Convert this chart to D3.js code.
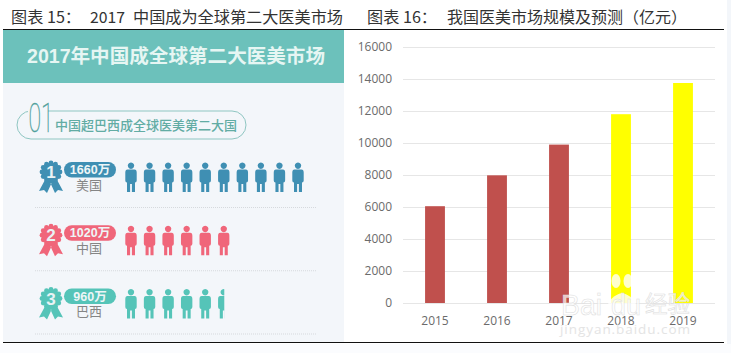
<!DOCTYPE html>
<html><head><meta charset="utf-8">
<script src="https://cdn.jsdelivr.net/npm/d3@7"></script>
<style>
html,body{margin:0;padding:0;background:#fff;overflow:hidden}
text{font-family:"Noto Sans CJK SC","Noto Sans",sans-serif}
</style></head><body>
<svg id="c" width="731" height="353"></svg>
<script>
const years=["2015","2016","2017","2018","2019"];
const marketValues=[6050,7980,9900,11800,13750];
const barColors=["#c0504d","#c0504d","#c0504d","#ffff00","#ffff00"];
const yTicks=[0,2000,4000,6000,8000,10000,12000,14000,16000];
const countries=["美国","中国","巴西"];
const patientLabels=["1660万","1020万","960万"];
const peopleCounts=[10,6,5.5];
const rowColors=["#3f8fb3","#f0667a","#55c4b8"];
const ranks=["1","2","3"];

const svg=d3.select("#c");
svg.append("rect").attr("width",731).attr("height",353).attr("fill","#fff");
svg.append("rect").attr("x",727).attr("width",4).attr("height",353).attr("fill","#f3f6fa");
svg.append("rect").attr("x",0).attr("y",344).attr("width",731).attr("height",9).attr("fill","#fbfcfe");

/* ---------- left infographic ---------- */
svg.append("rect").attr("x",3).attr("y",30).attr("width",341).attr("height",312).attr("fill","#f3f6fa");
svg.append("rect").attr("x",3).attr("y",30).attr("width",341).attr("height",53).attr("fill","#6cc1bb");
svg.append("text").attr("x",176).attr("y",63).attr("text-anchor","middle")
  .attr("font-size",19.5).attr("font-weight",700).attr("fill","#e6f6f3")
  .attr("textLength",298).attr("lengthAdjust","spacingAndGlyphs")
  .style("font-family","'Liberation Sans','Noto Sans CJK SC'").text("2017年中国成全球第二大医美市场");

svg.append("rect").attr("x",17).attr("y",111).attr("width",229).attr("height",28).attr("rx",14)
  .attr("fill","none").attr("stroke","#8fc6c2").attr("stroke-width",1);
svg.append("rect").attr("x",28).attr("y",100).attr("width",20).attr("height",37).attr("fill","#f3f6fa");
svg.append("text").attr("transform","translate(28.5,132) scale(.72,1.27)").attr("font-size",32)
  .attr("font-weight",100).attr("fill","#4f9f9b").attr("stroke","#4f9f9b").attr("stroke-width",.35)
  .style("font-family","'Roboto'").text("01");
svg.append("text").attr("x",55).attr("y",130).attr("font-size",13).attr("font-weight",500)
  .attr("fill","#62aca4").text("中国超巴西成全球医美第二大国");

const rowY=d3.scalePoint().domain(countries).range([177,303.5]);
const personX=d3.scaleLinear().domain([0,9]).range([131,298]);
const defs=svg.append("defs");

const person="M0,-14.5a3.2,3.2 0 1,1 -0.01,0Z M-3.5,-7.5 H3.5 Q5.7,-7.5 5.7,-4.5 V3.5 Q5.7,5.5 4,5.5 V15 H0.9 V7 H-0.9 V15 H-4 V5.5 Q-5.7,5.5 -5.7,3.5 V-4.5 Q-5.7,-7.5 -3.5,-7.5Z";

countries.forEach((name,i)=>{
  const cy=rowY(name), col=rowColors[i];
  const g=svg.append("g").attr("transform",`translate(0,${cy})`);
  // rosette
  const rg=g.append("g").attr("transform","translate(51,-5)");
  rg.append("path").attr("d","M-5,6 L-12,19 L-7,18 L-4,21 L2,8Z M5,6 L12,19 L7,18 L4,21 L-2,8Z").attr("fill",col);
  d3.range(12).forEach(k=>{
    const a=k/12*2*Math.PI;
    rg.append("circle").attr("cx",9*Math.cos(a)).attr("cy",9*Math.sin(a)).attr("r",2.4).attr("fill",col);
  });
  rg.append("circle").attr("r",9.5).attr("fill",col);
  rg.append("text").attr("text-anchor","middle").attr("y",6).attr("font-size",17).attr("font-weight",700)
    .attr("fill","#e9f3f5").style("font-family","'Liberation Sans'").text(ranks[i]);
  // pill
  g.append("rect").attr("x",64).attr("y",-15).attr("width",52).attr("height",15.5).attr("rx",7.7).attr("fill",col);
  g.append("text").attr("x",90).attr("y",-2.8).attr("text-anchor","middle").attr("font-size",12.5).attr("font-weight",700)
    .attr("fill","#eef6f7").style("font-family","'Liberation Sans','Noto Sans CJK SC'").text(patientLabels[i]);
  g.append("text").attr("x",89).attr("y",12.5).attr("text-anchor","middle").attr("font-size",13)
    .attr("fill","#858585").text(name);
  // people
  const n=peopleCounts[i], full=Math.ceil(n);
  const clipId="clip"+i;
  const lastFrac=n-Math.floor(n);
  defs.append("clipPath").attr("id",clipId).append("rect")
    .attr("x",0).attr("y",-40).attr("height",80)
    .attr("width",personX(full-1)+(lastFrac?0.5:6));
  g.append("g").attr("clip-path",`url(#${clipId})`).selectAll("path").data(d3.range(full)).join("path")
    .attr("d",person).attr("fill",col).attr("transform",d=>`translate(${personX(d)},0)`);
  // divider
  g.append("line").attr("x1",35).attr("x2",316).attr("y1",30.5).attr("y2",30.5)
    .attr("stroke","#d6d9dd").attr("stroke-width",1).attr("stroke-dasharray","1 1");
});

/* ---------- right bar chart ---------- */
const x=d3.scaleBand().domain(years).range([404,714]).paddingInner(.68).paddingOuter(.34);
const y=d3.scaleLinear().domain([0,16000]).range([303,47]);
svg.append("g").selectAll("line").data(yTicks).join("line")
  .attr("x1",403).attr("x2",715).attr("y1",d=>y(d)+.5).attr("y2",d=>y(d)+.5)
  .attr("stroke","#e6e6e6").attr("stroke-width",1);
svg.append("g").selectAll("rect").data(years).join("rect")
  .attr("x",d=>x(d)).attr("width",x.bandwidth())
  .attr("y",(d,i)=>y(marketValues[i])).attr("height",(d,i)=>y(0)-y(marketValues[i]))
  .attr("fill",(d,i)=>barColors[i]);
const yAxis=d3.axisLeft(y).tickValues(yTicks).tickSize(0).tickPadding(0).tickFormat(d3.format("d"));
const ya=svg.append("g").attr("transform","translate(392,0)").call(yAxis);
ya.select(".domain").remove();
ya.selectAll("text").attr("font-size",12).attr("fill","#6b6b6b").style("font-family","'Open Sans'");
const xAxis=d3.axisBottom(x).tickSize(0).tickPadding(0);
const xa=svg.append("g").attr("transform","translate(0,316)").call(xAxis);
xa.select(".domain").remove();
xa.selectAll("text").attr("font-size",12).attr("fill","#6b6b6b").style("font-family","'Open Sans'");

/* ---------- titles and rules ---------- */
const titleParts=[
  ["图表 15：",11,70],["2017",90,35],["中国成为全球第二大医美市场",133,210],
  ["图表 16：",367,70],["我国医美市场规模及预测（亿元）",447,240]
];
svg.append("g").selectAll("text").data(titleParts).join("text")
  .attr("x",d=>d[1]).attr("y",23).attr("font-size",15.5).attr("fill","#333")
  .attr("textLength",d=>d[2]).attr("lengthAdjust","spacingAndGlyphs")
  .style("font-family","'Noto Sans CJK SC'").text(d=>d[0]);
svg.append("line").attr("x1",3).attr("x2",724).attr("y1",29.5).attr("y2",29.5).attr("stroke","#111");
svg.append("line").attr("x1",3).attr("x2",724).attr("y1",342.5).attr("y2",342.5).attr("stroke","#111");

/* ---------- watermark ---------- */
const wm=svg.append("g");
[[-17,-13,4.5,6.5],[-6,-22,4.5,7],[6,-22,4.5,7],[16,-13,4.5,6.5]].forEach(p=>{
  wm.append("ellipse").attr("cx",622+p[0]).attr("cy",303+p[1]).attr("rx",p[2]).attr("ry",p[3])
    .attr("fill","#fff").attr("fill-opacity",.8);
});
wm.append("path").attr("d","M622,293 C611,295 603,308 610,312 C616,315 628,315 634,312 C641,308 633,295 622,293Z")
  .attr("fill","#fff").attr("fill-opacity",.8);
const wmStyle=s=>s.attr("fill","#fff").attr("fill-opacity",.7).attr("stroke","#dedede").attr("stroke-width",.6);
wm.append("text").attr("x",561).attr("y",315).attr("font-size",30).attr("textLength",41)
  .attr("lengthAdjust","spacingAndGlyphs").style("font-family","'Liberation Sans'").call(wmStyle).text("Bai");
wm.append("text").attr("x",611).attr("y",315).attr("font-size",30).attr("textLength",30)
  .attr("lengthAdjust","spacingAndGlyphs").style("font-family","'Liberation Sans'").call(wmStyle).text("du");
wm.append("text").attr("x",645).attr("y",312).attr("font-size",22.5).call(wmStyle).text("经验");
wm.append("text").attr("x",560).attr("y",334).attr("font-size",13.5).attr("fill","#e4e4e4")
  .attr("textLength",130).style("font-family","'Open Sans'").text("jingyan.baidu.com");
</script>
</body></html>
